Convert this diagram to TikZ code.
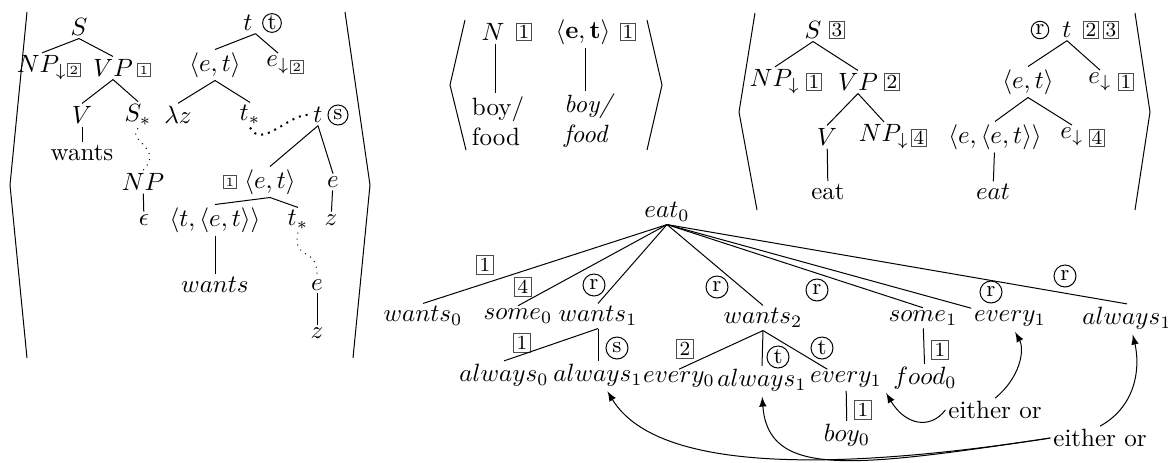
\documentclass[tikz,border=0pt]{standalone}
\usepackage{amsmath,amssymb}
\usetikzlibrary{arrows}

\begin{document}
\begin{tikzpicture}[x=0.4pt, y=-0.4pt, >=latex,
    every node/.style={inner sep=1pt},
    bx/.style={draw=black!70, inner sep=0.8pt, font=\footnotesize},
    bbx/.style={draw=black!70, inner sep=1.1pt, font=\footnotesize},
    sbx/.style={draw=black!70, inner sep=1pt, font=\tiny},
    circ/.style={draw, circle, inner sep=0pt, minimum size=#1, font=\small},
    circ/.default=7.5pt,
    link/.style={dotted},
    thicklink/.style={thick, dotted},
    pointer/.style={->, shorten >=1pt}]
    \useasboundingbox (0,0) rectangle (1168,462);
    % First, the left pair of trees with its brackets
    \draw (27,12) -- (10,185) -- (27,358);
    \draw (345,12) -- (370,185) -- (353,358);
    \node (lS) at (79,27) {$S$};
    \node (lNP) at (42,68) {$NP_{\downarrow}$};
    \node[sbx] (lNPbox) at (74,70) {2};
    \node (lVP) at (113,68) {$VP$};
    \node[sbx] (lVPbox) at (144,70) {1};
    \node (lV) at (82,115) {$V$};
    \node (lSstar) at (138,115) {$S_*$};
    \node (lwants) at (82,153) {wants};
    \node (lNPe) at (143,182) {$NP$};
    \node (leps) at (144,220) {$\epsilon$};
    \node (rt) at (248,23) {$t$};
    \node[circ] (rtcirc) at (272,23) {t};
    \node (ret) at (215,65) {$\langle e,t\rangle$};
    \node (re) at (278,65) {$e_{\downarrow}$};
    \node[sbx] (rebox) at (297,67) {2};
    \node (rlz) at (178,115) {$\lambda z$};
    \node (rtstar) at (250,115) {$t_*$};
    \node (rts) at (318,115) {$t$};
    \node[circ=8pt] (rtscirc) at (338,115) {s};
    \node[sbx] (retbox) at (230,182) {1};
    \node (retb) at (270,182) {$\langle e,t\rangle$};
    \node (reb) at (333,182) {$e$};
    \node (rz) at (331,220) {$z$};
    \node (rtet) at (215,220) {$\langle t,\langle e,t\rangle\rangle$};
    \node (rtstarb) at (298,220) {$t_*$};
    \node (rwants) at (215,285) {$wants$};
    \node (rec) at (317,285) {$e$};
    \node (rzc) at (317,333) {$z$};
    % Now the lines of the left pair
    \draw (lS.south) -- (lNP.north);
    \draw (lS.south) -- (lVP.north);
    \draw (lVP.south) -- (lV.north);
    \draw (lVP.south) -- (lSstar.north);
    \draw (lV) -- (lwants);
    \draw (lNPe) -- (leps);
    \draw[link] (lSstar.south) .. controls (125,140) and (165,148) .. (lNPe.north);
    \draw ([xshift=3pt]rt.south) -- (ret.north);
    \draw ([xshift=3pt]rt.south) -- (re.north);
    \draw (ret.south) -- (rlz.north);
    \draw (ret.south) -- (rtstar.north);
    \draw[thicklink] (rtstar.south) .. controls (262,150) and (290,112) .. (rts.west);
    \draw (rts.south) -- (retb.north);
    \draw (rts.south) -- (reb.north);
    \draw (reb) -- (rz);
    \draw (retb.south) -- (rtet.north);
    \draw (retb.south) -- (rtstarb.north);
    \draw (rtet) -- (rwants);
    \draw[link] (rtstarb.south) .. controls (292,262) and (318,245) .. (rec.north);
    \draw (rec) -- (rzc);
    % The middle pair
    \draw (465,20) -- (450,85) -- (466,150);
    \draw (647,20) -- (662,85) -- (647,150);
    \node (mN) at (493,32) {$N$};
    \node[bx] (mNbox) at (524,32) {1};
    \node (met) at (583,32) {$\langle\mathbf{e},\mathbf{t}\rangle$};
    \node[bx] (metbox) at (628,32) {1};
    \node[align=left] (mboy) at (498,121) {boy/\\food};
    \node[align=left, font=\itshape] (mboyi) at (588,121) {boy/\\food};
    \draw ([xshift=1pt]mN.south) -- ([xshift=1pt]mN.south |- mboy.north);
    \draw ([xshift=1pt]met.south) -- ([xshift=1pt]met.south |- mboyi.north);
    % The right pair
    \draw (755,13) -- (739,112) -- (757,210);
    \draw (1135,13) -- (1150,112) -- (1135,210);
    \node (pS) at (813,30) {$S$};
    \node[bx] (pSbox) at (837,30) {3};
    \node (pNP) at (775,82) {$NP_{\downarrow}$};
    \node[bx] (pNPbox) at (814,82) {1};
    \node (pVP) at (858,82) {$VP$};
    \node[bx] (pVPbox) at (892,82) {2};
    \node (pV) at (827,137) {$V$};
    \node (pNPb) at (884,137) {$NP_{\downarrow}$};
    \node[bx] (pNPbbox) at (919,138) {4};
    \node (peat) at (828,192) {eat};
    \node[circ=7pt] (ptcirc) at (1040,30) {r};
    \node (pt) at (1067,30) {$t$};
    \node[bx] (ptbox) at (1091,30) {2};
    \node[bx] (ptboxb) at (1111,30) {3};
    \node (pet) at (1028,82) {$\langle e,t\rangle$};
    \node (pe) at (1100,82) {$e_{\downarrow}$};
    \node[bx] (pebox) at (1126,82) {1};
    \node (peet) at (995,137) {$\langle e,\langle e,t\rangle\rangle$};
    \node (peb) at (1072,137) {$e_{\downarrow}$};
    \node[bx] (pebbox) at (1097,138) {4};
    \node (peati) at (993,192) {$eat$};
    \draw (pS.south) -- (pNP.north);
    \draw (pS.south) -- (pVP.north);
    \draw (pVP.south) -- (pV.north);
    \draw (pVP.south) -- (pNPb.north);
    \draw (pV) -- (peat);
    \draw (pt.south) -- (pet.north);
    \draw (pt.south) -- (pe.north);
    \draw (pet.south) -- (peet.north);
    \draw (pet.south) -- (peb.north);
    \draw (peet) -- (peati);
    % The derivation tree below
    \node (eat) at (667,212) {$eat_0$};
    \node (wantsz) at (423,316) {$wants_0$};
    \node (somez) at (518,316) {$some_0$};
    \node (wantso) at (598,316) {$wants_1$};
    \node (wantst) at (763,318) {$wants_2$};
    \node (someo) at (923,318) {$some_1$};
    \node (everyo) at (1010,319) {$every_1$};
    \node (alwayso) at (1127,318) {$always_1$};
    \node (alwaysz) at (504,375) {$always_0$};
    \node (alwaysoa) at (598,375) {$always_1$};
    \node (everyz) at (679,380) {$every_0$};
    \node (alwaysob) at (762,380) {$always_1$};
    \node (everyob) at (846,380) {$every_1$};
    \node (boyz) at (847,435) {$boy_0$};
    \node (foodz) at (925,378) {$food_0$};
    \node (eitherA) at (995,410) {either or};
    \node (eitherB) at (1100,438) {either or};
    % labels of the links
    \node[bbx] (lbA) at (485,265) {1};
    \node[bbx] (lbB) at (523,287) {4};
    \node[circ=8.8pt] (lbC) at (594,285) {r};
    \node[circ=8.8pt] (lbD) at (717,287) {r};
    \node[circ=8.8pt] (lbE) at (817,290) {r};
    \node[circ=8.8pt] (lbF) at (991,292) {r};
    \node[circ=8.8pt] (lbG) at (1065,276) {r};
    \node[bbx] (lbH) at (522,343) {1};
    \node[circ=8.8pt] (lbI) at (617,348) {s};
    \node[bbx] (lbJ) at (685,349) {2};
    \node[circ=8.8pt] (lbK) at (778,357) {t};
    \node[circ=8.8pt] (lbL) at (822,348) {t};
    \node[bbx] (lbM) at (863,410) {1};
    \node[bbx] (lbN) at (940,350) {1};
    % Now draw the links
    \draw (eat.south) -- (wantsz.north);
    \draw (eat.south) -- (somez.north);
    \draw (eat.south) -- (wantso.north);
    \draw (eat.south) -- (wantst.north);
    \draw (eat.south) -- (someo.north);
    \draw (eat.south) -- (everyo.north west);
    \draw (eat.south) -- (alwayso.north);
    \draw (wantso.south) -- (alwaysz.north);
    \draw (wantso.south) -- (alwaysoa.north);
    \draw (wantst.south) -- (everyz.north);
    \draw (wantst.south) -- (alwaysob.north);
    \draw (wantst.south) -- (everyob.150);
    \draw (everyob) -- (boyz);
    \draw (someo) -- (foodz);
    % and the pointers from the either or nodes
    \draw[pointer] (eitherA.west) .. controls (930,430) and (905,425) .. (everyob.south east);
    \draw[pointer] (eitherA.north) .. controls (1020,378) and (1025,350) .. (everyo.-70);
    \draw[pointer] (eitherB.north) .. controls (1138,405) and (1140,365) .. (alwayso.-70);
    \draw[pointer] (eitherB.west) .. controls (850,468) and (768,478) .. (alwaysob.south);
    \draw[pointer] (eitherB.west) .. controls (790,478) and (650,462) .. (alwaysoa.-60);
\end{tikzpicture}
\end{document}
